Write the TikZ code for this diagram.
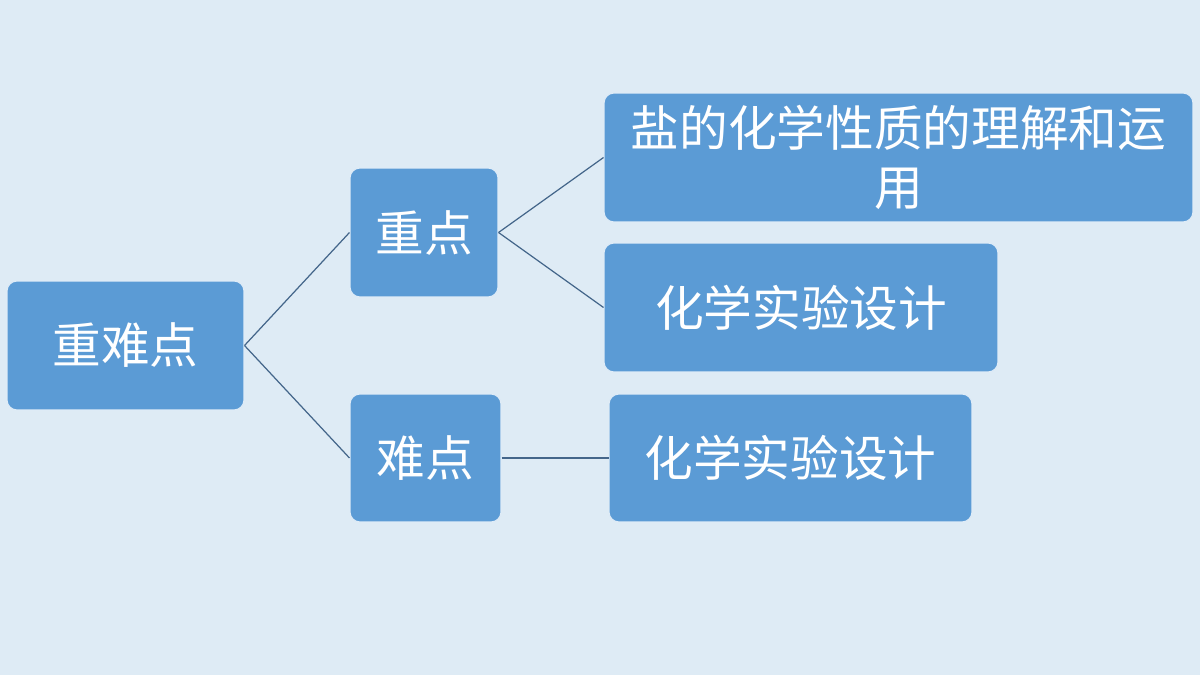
\documentclass[tikz,border=0pt]{standalone}
\usepackage{fontspec}
\newfontfamily\cjk{Noto Sans CJK SC}
\usepackage{xcolor}
\usetikzlibrary{positioning}

\definecolor{bgblue}{HTML}{DEEBF5}
\definecolor{boxblue}{HTML}{5B9BD5}
\definecolor{linkgray}{HTML}{44668A}

\begin{document}
\begin{tikzpicture}[
    x=0.02cm, y=-0.02cm,
    topicbox/.style={rectangle, rounded corners=0.2cm, draw=white!80!boxblue, line width=0.6pt, fill=boxblue, text=white, inner sep=0pt, align=center, font=\cjk\fontsize{27.7}{34}\selectfont},
    link/.style={draw=linkgray, line width=0.7pt},
]
\fill[bgblue] (0,0) rectangle (1200,675);
\useasboundingbox (0,0) rectangle (1200,675);

\node[topicbox, minimum width=4.74cm, minimum height=2.58cm] (root) at (125.5,345.5) {重难点};
\node[topicbox, minimum width=2.96cm, minimum height=2.58cm] (key) at (424,232.5) {重点};
\node[topicbox, minimum width=3.02cm, minimum height=2.56cm] (hard) at (425.5,458) {难点};
\node[topicbox, minimum width=11.78cm, minimum height=2.58cm] (salt) at (898.5,157.5) {盐的化学性质的理解和运\\用};
\node[topicbox, minimum width=7.88cm, minimum height=2.58cm] (expA) at (801,307.5) {化学实验设计};
\node[topicbox, minimum width=7.26cm, minimum height=2.56cm] (expB) at (790.5,458) {化学实验设计};

\draw[link] (root.east) -- (key.west);
\draw[link] (root.east) -- (hard.west);
\draw[link] (key.east) -- (salt.west);
\draw[link] (key.east) -- (expA.west);
\draw[link] (hard.east) -- (expB.west);
\end{tikzpicture}
\end{document}
